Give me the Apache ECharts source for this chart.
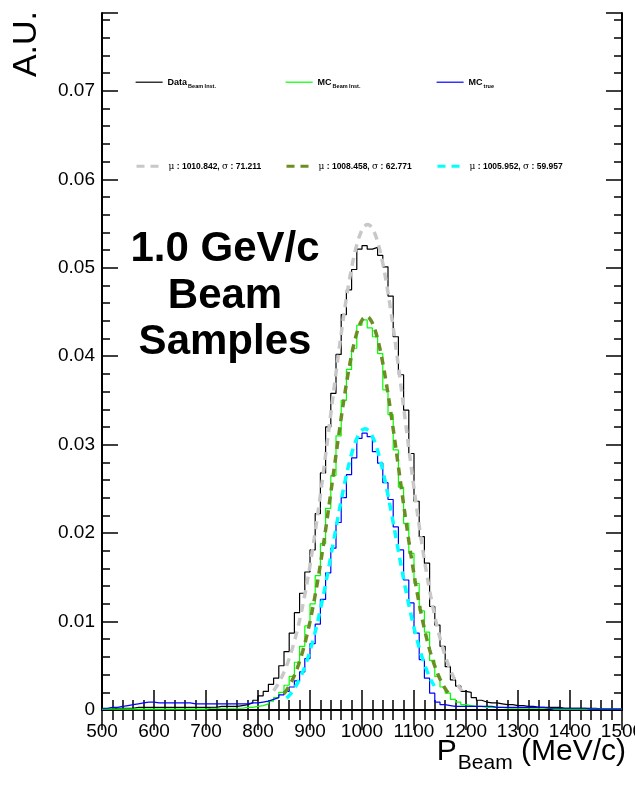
<!DOCTYPE html>
<html><head><meta charset="utf-8">
<script src="https://cdn.jsdelivr.net/npm/echarts@6/dist/echarts.min.js"></script>
<style>html,body{margin:0;padding:0;background:#fff}#c{width:635px;height:786px}</style>
</head><body><div id="c"></div>
<script>
// ---- binning (10 MeV/c bins from 500 to 1500) ----
const binStart = 500;
const binWidth = 10;
const xTickLabels = ['500','600','700','800','900','1000','1100','1200','1300','1400','1500'];
const yTickLabels = ['0','0.01','0.02','0.03','0.04','0.05','0.06','0.07'];

// ---- histogram contents (A.U.) ----
const dataBeamInst = [
0.0001,0.0001,0.0002,0.0002,0.0002,0.0002,0.0003,0.0003,0.0003,0.0003,
0.0003,0.0003,0.0003,0.0003,0.0003,0.0003,0.0003,0.0003,0.0003,0.0003,
0.0003,0.0003,0.0004,0.0004,0.0004,0.0004,0.0005,0.0006,0.0008,0.0011,
0.0016,0.0021,0.0029,0.0036,0.0050,0.0066,0.0087,0.0110,0.0132,0.0156,
0.0181,0.0222,0.0268,0.0320,0.0358,0.0402,0.0447,0.0475,0.0498,0.0521,
0.0525,0.0521,0.0523,0.0514,0.0501,0.0468,0.0422,0.0379,0.0339,0.0290,
0.0236,0.0196,0.0166,0.0117,0.0096,0.0072,0.0049,0.0034,0.0027,0.0021,
0.0020,0.0014,0.0011,0.0009,0.0008,0.0008,0.0007,0.0006,0.0006,0.0005,
0.0005,0.0004,0.0004,0.0003,0.0003,0.0003,0.0003,0.0003,0.0002,0.0002,
0.0002,0.0002,0.0002,0.0002,0.0002,0.0001,0.0001,0.0001,0.0001,0.0001];
const mcBeamInst = [
0.0001,0.0001,0.0001,0.0001,0.0001,0.0001,0.0001,0.0001,0.0001,0.0001,
0.0001,0.0001,0.0001,0.0001,0.0001,0.0001,0.0001,0.0001,0.0001,0.0001,
0.0002,0.0002,0.0002,0.0002,0.0002,0.0002,0.0002,0.0003,0.0003,0.0004,
0.0005,0.0007,0.0010,0.0014,0.0020,0.0028,0.0038,0.0054,0.0072,0.0095,
0.0120,0.0152,0.0188,0.0228,0.0265,0.0310,0.0350,0.0385,0.0409,0.0435,
0.0441,0.0432,0.0422,0.0403,0.0362,0.0334,0.0294,0.0252,0.0211,0.0177,
0.0143,0.0112,0.0088,0.0056,0.0038,0.0026,0.0019,0.0012,0.0009,0.0006,
0.0005,0.0004,0.0004,0.0003,0.0003,0.0003,0.0003,0.0002,0.0002,0.0002,
0.0002,0.0002,0.0002,0.0002,0.0002,0.0002,0.0001,0.0001,0.0001,0.0001,
0.0001,0.0001,0.0001,0.0001,0.0001,0.0001,0.0001,0.0001,0.0001,0.0001];
const mcTrue = [
0.0002,0.0003,0.0003,0.0004,0.0005,0.0006,0.0007,0.0008,0.0009,0.0009,
0.0008,0.0008,0.0008,0.0008,0.0008,0.0008,0.0008,0.0007,0.0007,0.0007,
0.0007,0.0007,0.0007,0.0007,0.0007,0.0007,0.0007,0.0007,0.0008,0.0008,
0.0009,0.0010,0.0012,0.0014,0.0017,0.0021,0.0026,0.0033,0.0043,0.0058,
0.0075,0.0097,0.0125,0.0155,0.0183,0.0212,0.0240,0.0266,0.0285,0.0307,
0.0313,0.0309,0.0292,0.0279,0.0257,0.0238,0.0207,0.0181,0.0147,0.0121,
0.0087,0.0057,0.0036,0.0019,0.0009,0.0006,0.0005,0.0004,0.0004,0.0004,
0.0004,0.0004,0.0004,0.0004,0.0004,0.0003,0.0003,0.0003,0.0003,0.0003,
0.0003,0.0003,0.0003,0.0003,0.0003,0.0002,0.0002,0.0002,0.0002,0.0002,
0.0002,0.0002,0.0002,0.0001,0.0001,0.0001,0.0001,0.0001,0.0001,0.0001];

// ---- Gaussian fit parameters (Data, MC Beam Inst., MC true) ----
const fitMu    = [1010.842, 1008.458, 1005.952];
const fitSigma = [71.211, 62.771, 59.957];
const fitAmp   = [0.0549, 0.0445, 0.0318];
const fitLo    = [830, 850, 855];
const fitHi    = [1192, 1166, 1140];
const fitLabels = ['1010.842, \u03c3 : 71.211', '1008.458, \u03c3 : 62.771', '1005.952, \u03c3 : 59.957'];

// ---------------------------------------------------------------
const FONT = 'Liberation Sans, Arial, Helvetica, sans-serif';
function histPoints(vals){
  const pts = vals.map((v,i)=>[binStart + i*binWidth, v]);
  pts.push([binStart + vals.length*binWidth, vals[vals.length-1]]);
  return pts;
}
function fitPoints(k){
  const pts = [];
  for (let x = fitLo[k]; x <= fitHi[k] + 1e-9; x += 2) {
    const z = (x - fitMu[k]) / fitSigma[k];
    pts.push([x, fitAmp[k]*Math.exp(-0.5*z*z)]);
  }
  return pts;
}
const yMax = 0.0788;
const chart = echarts.init(document.getElementById('c'), null, {renderer:'canvas'});

const frameLine = {show:true, lineStyle:{color:'#000', width:2}};
const xCommon = {type:'value', min:500, max:1500, interval:100, splitLine:{show:false}};
const yCommon = {type:'value', min:0, max:yMax, splitLine:{show:false}};

const histColors = ['#000000', '#00ff00', '#0000ff'];
const fitColors = ['#c8c8c8', '#6b8e23', '#00ffff'];
const histNames = ['Data', 'MCBI', 'MCtrue'];
const fitNames = ['fitData', 'fitMCBI', 'fitMCtrue'];
const histSets = [dataBeamInst, mcBeamInst, mcTrue];

const series = [];
histSets.forEach((vals,k)=>{
  series.push({name:histNames[k], type:'line', step:'end', data:histPoints(vals),
    showSymbol:false, symbol:'none', xAxisIndex:0, yAxisIndex:0, z:3,
    lineStyle:{color:histColors[k], width:1.2}, itemStyle:{color:histColors[k]}});
});
[0,1,2].forEach(k=>{
  series.push({name:fitNames[k], type:'line', data:fitPoints(k), showSymbol:false, symbol:'none',
    xAxisIndex:0, yAxisIndex:0, z:4,
    lineStyle:{color:fitColors[k], width:3.5, type:[8,6]}, itemStyle:{color:fitColors[k]}});
});

const legLeft = [135, 285, 436];
const histLegendText = ['{m|Data}{s|Beam Inst.}', '{m|MC}{s|Beam Inst.}', '{m|MC}{s|true}'];
const legends = [];
[0,1,2].forEach(k=>{
  legends.push({data:[histNames[k]], left:legLeft[k], top:77, padding:0, itemWidth:27, itemHeight:13,
    selectedMode:false, itemStyle:{opacity:0}, lineStyle:{width:1.2},
    formatter:()=>histLegendText[k],
    textStyle:{fontFamily:FONT, color:'#000', rich:{
      m:{fontSize:9, fontWeight:'bold', fontFamily:FONT, color:'#000'},
      s:{fontSize:5.5, fontWeight:'bold', fontFamily:FONT, color:'#000', padding:[8,0,0,1]}}}});
  legends.push({data:[fitNames[k]], left:legLeft[k], top:161, padding:0, itemWidth:27, itemHeight:13,
    selectedMode:false, itemStyle:{opacity:0}, lineStyle:{width:3},
    formatter:()=>'{g|\u03bc}{b| : ' + fitLabels[k].replace('\u03c3','}{g|\u03c3}{b|') + '}',
    textStyle:{fontFamily:FONT, color:'#000', rich:{
      g:{fontSize:9, fontFamily:'DejaVu Serif', color:'#000'},
      b:{fontSize:8.5, fontWeight:'bold', fontFamily:FONT, color:'#000'}}}});
});

chart.setOption({
  animation:false,
  backgroundColor:'#fff',
  grid:{left:102, right:13, top:13, bottom:76, containLabel:false, outerBoundsMode:'none'},
  legend:legends,
  xAxis:[
    Object.assign({}, xCommon, {position:'bottom', axisLine:frameLine,
      axisTick:{show:true, inside:true, length:20, lineStyle:{color:'#000', width:1.5}},
      minorTick:{show:true, splitNumber:5, length:10, lineStyle:{color:'#000', width:1.5}},
      axisLabel:{show:true, margin:12, color:'#000', fontSize:19, fontFamily:FONT,
        formatter:(v)=>{const i = Math.round((v-500)/100); return Math.abs(v-500-i*100)<1e-6 ? xTickLabels[i] : '';}}}),
    Object.assign({}, xCommon, {position:'top', axisLine:frameLine,
      axisTick:{show:true, inside:true, length:20, lineStyle:{color:'#000', width:1.5}},
      minorTick:{show:true, splitNumber:5, length:10, lineStyle:{color:'#000', width:1.5}},
      axisLabel:{show:false}})
  ],
  yAxis:[
    Object.assign({}, yCommon, {position:'left', interval:0.01, axisLine:frameLine,
      axisTick:{show:true, inside:true, length:16, lineStyle:{color:'#000', width:1.5}},
      axisLabel:{show:true, margin:7, color:'#000', fontSize:19, fontFamily:FONT,
        formatter:(v)=>{const i = Math.round(v*100); return Math.abs(v*100-i)<1e-6 && i<yTickLabels.length ? yTickLabels[i] : '';}}}),
    Object.assign({}, yCommon, {position:'left', interval:0.002, axisLine:{show:false},
      axisTick:{show:true, inside:true, length:8, lineStyle:{color:'#000', width:1.5}},
      axisLabel:{show:false}}),
    Object.assign({}, yCommon, {position:'right', interval:0.01, axisLine:frameLine,
      axisTick:{show:true, inside:true, length:16, lineStyle:{color:'#000', width:1.5}},
      axisLabel:{show:false}}),
    Object.assign({}, yCommon, {position:'right', interval:0.002, axisLine:{show:false},
      axisTick:{show:true, inside:true, length:8, lineStyle:{color:'#000', width:1.5}},
      axisLabel:{show:false}})
  ],
  series:series,
  graphic:[
    {type:'text', x:27, y:44, rotation:Math.PI/2,
      style:{text:'A.U.', fill:'#000', font:'34px ' + FONT, align:'center', verticalAlign:'middle'}},
    {type:'text', x:626, y:752,
      style:{text:'{p|P}{s|Beam}{p| (MeV/c)}', align:'right', verticalAlign:'middle',
        rich:{p:{fontSize:30, fontFamily:FONT, fill:'#000'}, s:{fontSize:21, fontFamily:FONT, fill:'#000', padding:[22,0,0,1]}}}},
    {type:'text', x:225, y:249, style:{text:'1.0 GeV/c', fill:'#000', font:'bold 42px ' + FONT, align:'center', verticalAlign:'middle'}},
    {type:'text', x:225, y:296, style:{text:'Beam', fill:'#000', font:'bold 42px ' + FONT, align:'center', verticalAlign:'middle'}},
    {type:'text', x:225, y:342, style:{text:'Samples', fill:'#000', font:'bold 42px ' + FONT, align:'center', verticalAlign:'middle'}}
  ]
});
</script></body></html>
